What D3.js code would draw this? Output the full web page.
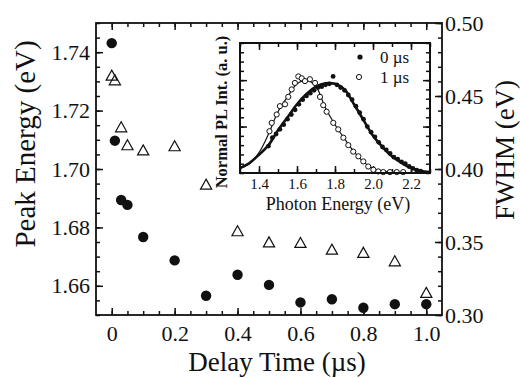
<!DOCTYPE html>
<html>
    <head>
        <meta charset="utf-8">
        <title> Peak energy and FWHM vs delay time </title>
        <script type="text/javascript" src="https://d3js.org/d3.v7.min.js"></script>
        <style>
            body { margin: 0; background: #fff; }
            text { font-family: "Liberation Serif", "Times New Roman", serif; fill: #111; }
        </style>
    </head>

    <body>
        <div id="my_chart"></div>
    </body>

    <script type="text/javascript">
        // ---- main plot data ----
        var delayTime  = [0, 0.01, 0.03, 0.05, 0.1, 0.2, 0.3, 0.4, 0.5, 0.6, 0.7, 0.8, 0.9, 1.0];
        var peakEnergy = [1.7431, 1.7097, 1.6894, 1.6877, 1.6767, 1.6687, 1.6566, 1.6638, 1.6603, 1.6543, 1.6554, 1.6525, 1.6537, 1.6537];
        var fwhm       = [0.4639, 0.4607, 0.4285, 0.4162, 0.4127, 0.4155, 0.3892, 0.3573, 0.3497, 0.3493, 0.3447, 0.3425, 0.3367, 0.3151];

        var xTicks      = [0, 0.2, 0.4, 0.6, 0.8, 1.0];
        var leftTicks   = [1.66, 1.68, 1.70, 1.72, 1.74];
        var rightTicks  = [0.30, 0.35, 0.40, 0.45, 0.50];

        // ---- inset data: normalized PL spectra ----
        var energy0 = [1.45, 1.47, 1.49, 1.51, 1.53, 1.55, 1.57, 1.59, 1.61, 1.63, 1.65, 1.67, 1.69, 1.71, 1.73, 1.75, 1.77, 1.79,
                       1.81, 1.83, 1.85, 1.87, 1.89, 1.91, 1.93, 1.95, 1.97, 1.99, 2.01, 2.03, 2.05, 2.07, 2.09, 2.11, 2.13,
                       2.15, 2.17, 2.19, 2.21, 2.23, 2.25];
        var pl0     = [0.29, 0.38, 0.42, 0.47, 0.52, 0.58, 0.63, 0.68, 0.74, 0.79, 0.83, 0.86, 0.89, 0.92, 0.93, 0.95, 0.96, 1.04,
                       0.95, 0.92, 0.89, 0.84, 0.79, 0.72, 0.65, 0.58, 0.50, 0.44, 0.39, 0.33, 0.28, 0.25, 0.21, 0.17, 0.15,
                       0.12, 0.10, 0.07, 0.05, 0.03, 0.02];
        var energy1 = [1.455, 1.467, 1.493, 1.51, 1.537, 1.554, 1.572, 1.589, 1.607, 1.625, 1.642, 1.668, 1.695, 1.721, 1.738,
                       1.756, 1.791, 1.817, 1.844, 1.87, 1.896, 1.923, 1.949, 1.975, 2.002, 2.028, 2.054, 2.089, 2.125, 2.159];
        var pl1     = [0.45, 0.54, 0.63, 0.72, 0.74, 0.82, 0.90, 0.97, 1.04, 1.02, 0.99, 1.01, 0.97, 0.82, 0.73,
                       0.66, 0.54, 0.47, 0.38, 0.30, 0.23, 0.18, 0.125, 0.07, 0.035, 0.017, 0.01, 0.01, 0.01, 0.01];

        var fitEnergy = [1.3, 1.35, 1.4, 1.45, 1.5, 1.55, 1.6, 1.65, 1.7, 1.75, 1.8, 1.85, 1.9, 1.95, 2.0, 2.05, 2.1, 2.15, 2.2, 2.25, 2.3];
        var fit0      = [0.054, 0.108, 0.197, 0.30, 0.46, 0.60, 0.74, 0.85, 0.93, 0.965, 0.96, 0.90, 0.74, 0.57, 0.40, 0.28, 0.18, 0.11, 0.055, 0.025, 0.01];
        var fit1      = [0.05, 0.10, 0.22, 0.42, 0.66, 0.82, 0.96, 1.0, 0.93, 0.70, 0.52, 0.37, 0.23, 0.12, 0.05, 0.02, 0.01, 0.005, 0.003, 0.002, 0.001];

        var insetXTicks = [1.4, 1.6, 1.8, 2.0, 2.2];

        // ---- layout ----
        var svg_size = {width: 520, height: 378};
        var plot = {left: 96, right: 442, top: 23, bottom: 315};
        var inset = {left: 240, right: 430, top: 43, bottom: 173};

        var svg = d3.select('#my_chart')
                    .append('svg')
                    .attr('width', svg_size.width)
                    .attr('height', svg_size.height);

        svg.append('rect').attr('width', svg_size.width).attr('height', svg_size.height).attr('fill', '#fff');

        var x = d3.scaleLinear().domain([-0.05, 1.05]).range([plot.left, plot.right]);
        var yL = d3.scaleLinear().domain([1.65, 1.75]).range([plot.bottom, plot.top]);
        var yR = d3.scaleLinear().domain([0.30, 0.50]).range([plot.bottom, plot.top]);

        function steps(a, b, s) {
            // tick positions between a and b, step s
            var out = [];
            for (var v = a; v <= b + s / 1000; v += s) out.push(+v.toFixed(4));
            return out;
        }

        // style a d3 axis group: black lines, no domain path
        function styleAxis(g, fontSize) {
            g.select('.domain').remove();
            g.selectAll('line').attr('stroke', '#111').attr('stroke-width', 1.5);
            g.selectAll('text').attr('font-size', fontSize).attr('font-family', '"Liberation Serif", serif').attr('fill', '#111');
        }

        // bottom axis
        svg.append('g').attr('transform', 'translate(0,' + plot.bottom + ')')
            .call(d3.axisBottom(x).tickValues(steps(0, 1, 0.05)).tickSize(-4).tickFormat(''))
            .call(styleAxis, 22);
        svg.append('g').attr('transform', 'translate(0,' + plot.bottom + ')')
            .call(d3.axisBottom(x).tickValues(xTicks).tickSize(-7).tickPadding(10).tickFormat(d3.format('.1~f')))
            .call(styleAxis, 22)
            .selectAll('text').text(function(d){ return d === 0 ? '0' : d3.format('.1f')(d); });
        // top axis (ticks only)
        svg.append('g').attr('transform', 'translate(0,' + plot.top + ')')
            .call(d3.axisTop(x).tickValues(steps(0, 1, 0.05)).tickSize(-4).tickFormat(''))
            .call(styleAxis, 22);
        svg.append('g').attr('transform', 'translate(0,' + plot.top + ')')
            .call(d3.axisTop(x).tickValues(xTicks).tickSize(-7).tickFormat(''))
            .call(styleAxis, 22);

        // left axis
        svg.append('g').attr('transform', 'translate(' + plot.left + ',0)')
            .call(d3.axisLeft(yL).tickValues(steps(1.65, 1.75, 0.005)).tickSize(-4).tickFormat(''))
            .call(styleAxis, 22);
        svg.append('g').attr('transform', 'translate(' + plot.left + ',0)')
            .call(d3.axisLeft(yL).tickValues(leftTicks).tickSize(-7).tickPadding(6).tickFormat(d3.format('.2f')))
            .call(styleAxis, 22);

        // right axis
        svg.append('g').attr('transform', 'translate(' + plot.right + ',0)')
            .call(d3.axisRight(yR).tickValues(steps(0.30, 0.50, 0.01)).tickSize(-4).tickFormat(''))
            .call(styleAxis, 22);
        svg.append('g').attr('transform', 'translate(' + plot.right + ',0)')
            .call(d3.axisRight(yR).tickValues(rightTicks).tickSize(-7).tickPadding(3).tickFormat(d3.format('.2f')))
            .call(styleAxis, 22);

        // frame
        svg.append('rect')
            .attr('x', plot.left).attr('y', plot.top)
            .attr('width', plot.right - plot.left).attr('height', plot.bottom - plot.top)
            .attr('fill', 'none').attr('stroke', '#111').attr('stroke-width', 1.8);

        // axis titles
        svg.append('text')
            .attr('x', 277).attr('y', 371)
            .attr('text-anchor', 'middle').attr('font-size', 27)
            .text('Delay Time (\u00b5s)');
        svg.append('text')
            .attr('transform', 'translate(35,144) rotate(-90)')
            .attr('text-anchor', 'middle').attr('font-size', 29)
            .text('Peak Energy (eV)');
        svg.append('text')
            .attr('transform', 'translate(514,150) rotate(-90)')
            .attr('text-anchor', 'middle').attr('font-size', 27)
            .text('FWHM (eV)');

        // FWHM: open triangles on right axis
        function triangle(cx, cy) {
            return 'M' + cx + ',' + (cy - 5.6) + 'L' + (cx + 5.6) + ',' + (cy + 4.4) + 'L' + (cx - 5.6) + ',' + (cy + 4.4) + 'Z';
        }
        svg.append('g').selectAll('path')
            .data(delayTime)
            .enter()
            .append('path')
            .attr('d', function(d, i){ return triangle(x(d), yR(fwhm[i])); })
            .attr('fill', 'none').attr('stroke', '#111').attr('stroke-width', 1.2);

        // Peak energy: filled circles on left axis
        svg.append('g').selectAll('circle')
            .data(delayTime)
            .enter()
            .append('circle')
            .attr('cx', function(d){ return x(d); })
            .attr('cy', function(d, i){ return yL(peakEnergy[i]); })
            .attr('r', 5.2)
            .attr('fill', '#111');

        // ---------------- inset ----------------
        var ix = d3.scaleLinear().domain([1.3, 2.3]).range([inset.left, inset.right]);
        var iy = d3.scaleLinear().domain([0, 1.4]).range([inset.bottom, inset.top]);

        svg.append('rect')
            .attr('x', inset.left).attr('y', inset.top)
            .attr('width', inset.right - inset.left).attr('height', inset.bottom - inset.top)
            .attr('fill', '#fff');

        var ig = svg.append('g');
        ig.append('g').attr('transform', 'translate(0,' + inset.bottom + ')')
            .call(d3.axisBottom(ix).tickValues(steps(1.3, 2.3, 0.1)).tickSize(-4).tickFormat(''))
            .call(styleAxis, 15);
        ig.append('g').attr('transform', 'translate(0,' + inset.bottom + ')')
            .call(d3.axisBottom(ix).tickValues(insetXTicks).tickSize(-7).tickPadding(5).tickFormat(d3.format('.1f')))
            .call(styleAxis, 15);
        ig.append('g').attr('transform', 'translate(0,' + inset.top + ')')
            .call(d3.axisTop(ix).tickValues(steps(1.3, 2.3, 0.1)).tickSize(-4).tickFormat(''))
            .call(styleAxis, 15);
        ig.append('g').attr('transform', 'translate(0,' + inset.top + ')')
            .call(d3.axisTop(ix).tickValues(insetXTicks).tickSize(-7).tickFormat(''))
            .call(styleAxis, 15);
        ig.append('g').attr('transform', 'translate(' + inset.left + ',0)')
            .call(d3.axisLeft(iy).tickValues(steps(0, 1.4, 0.1)).tickSize(-4).tickFormat(''))
            .call(styleAxis, 15);
        ig.append('g').attr('transform', 'translate(' + inset.left + ',0)')
            .call(d3.axisLeft(iy).tickValues([0.5, 1.0]).tickSize(-7).tickFormat(''))
            .call(styleAxis, 15);
        ig.append('g').attr('transform', 'translate(' + inset.right + ',0)')
            .call(d3.axisRight(iy).tickValues(steps(0, 1.4, 0.1)).tickSize(-4).tickFormat(''))
            .call(styleAxis, 15);
        ig.append('g').attr('transform', 'translate(' + inset.right + ',0)')
            .call(d3.axisRight(iy).tickValues([0.5, 1.0]).tickSize(-7).tickFormat(''))
            .call(styleAxis, 15);

        // fit curves
        var fitLine = function(ys) {
            return d3.line()
                .x(function(d){ return ix(d); })
                .y(function(d, i){ return iy(ys[i]); })
                .curve(d3.curveCatmullRom)(fitEnergy);
        };
        ig.append('path').attr('d', fitLine(fit1)).attr('fill', 'none').attr('stroke', '#111').attr('stroke-width', 1.2);
        ig.append('path').attr('d', fitLine(fit0)).attr('fill', 'none').attr('stroke', '#111').attr('stroke-width', 2.6);

        // data points
        ig.append('g').selectAll('circle')
            .data(energy1)
            .enter()
            .append('circle')
            .attr('cx', function(d){ return ix(d); })
            .attr('cy', function(d, i){ return iy(pl1[i]); })
            .attr('r', 2.6)
            .attr('fill', '#fff').attr('stroke', '#111').attr('stroke-width', 1);
        ig.append('g').selectAll('circle')
            .data(energy0)
            .enter()
            .append('circle')
            .attr('cx', function(d){ return ix(d); })
            .attr('cy', function(d, i){ return iy(pl0[i]); })
            .attr('r', 2.4)
            .attr('fill', '#111');

        // inset frame
        ig.append('rect')
            .attr('x', inset.left).attr('y', inset.top)
            .attr('width', inset.right - inset.left).attr('height', inset.bottom - inset.top)
            .attr('fill', 'none').attr('stroke', '#111').attr('stroke-width', 2);

        // inset legend
        var legend = ig.append('g').attr('transform', 'translate(' + (inset.right - 70) + ',' + (inset.top + 14) + ')');
        legend.append('circle').attr('cx', 0).attr('cy', 0).attr('r', 2.6).attr('fill', '#111');
        legend.append('text').attr('x', 20).attr('y', 6).attr('font-size', 17).text('0 \u00b5s');
        legend.append('circle').attr('cx', -1).attr('cy', 20).attr('r', 2.6).attr('fill', '#fff').attr('stroke', '#111');
        legend.append('text').attr('x', 20).attr('y', 26).attr('font-size', 17).text('1 \u00b5s');

        // inset titles
        ig.append('text')
            .attr('x', (inset.left + inset.right) / 2 + 3).attr('y', 210)
            .attr('text-anchor', 'middle').attr('font-size', 18)
            .text('Photon Energy (eV)');
        ig.append('text')
            .attr('transform', 'translate(227,112) rotate(-90)')
            .attr('text-anchor', 'middle').attr('font-size', 16.5).attr('font-weight', 'bold')
            .text('Normal PL Int. (a. u.)');
    </script>
</html>
